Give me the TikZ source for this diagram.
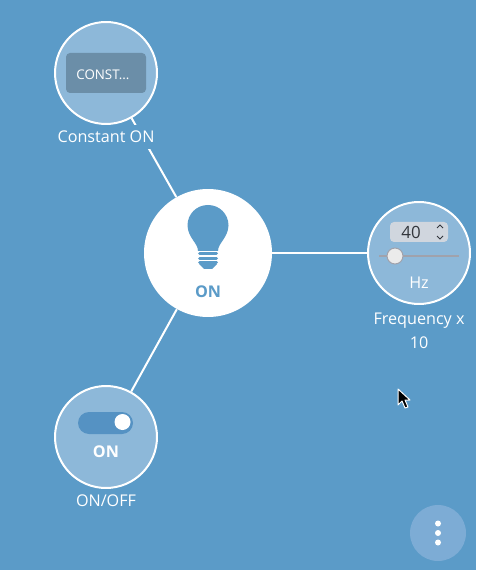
\documentclass[tikz,border=0pt]{standalone}
\usepackage{fontspec}
\setmainfont{Open Sans}
\usetikzlibrary{backgrounds}
\definecolor{panelblue}{RGB}{91,155,200}
\definecolor{widgetlight}{RGB}{141,184,217}
\definecolor{menulight}{RGB}{125,172,213}
\definecolor{constgray}{RGB}{107,142,168}
\definecolor{togglepill}{RGB}{85,146,195}
\definecolor{spingray}{RGB}{208,214,222}
\definecolor{trackgray}{RGB}{160,162,172}
\definecolor{inkdark}{RGB}{50,54,60}
\tikzset{
  widget/.style = {circle, draw=white, line width=0.04cm, fill=widgetlight,
                   minimum size=2.04cm, inner sep=0pt},
  lamp/.style   = {circle, fill=white, minimum size=2.56cm, inner sep=0pt},
  link/.style   = {draw=white, line width=0.04cm},
  lbl/.style    = {font=\fontsize{9.2pt}{13.6pt}\selectfont, text=white, fill=panelblue,
                   align=center, inner sep=0pt, minimum height=0.48cm},
  txt/.style    = {font=\fontsize{9.2pt}{10pt}\selectfont, text=white, inner sep=0pt},
  band/.style   = {draw=panelblue, line width=0.06cm, line cap=round},
}
\begin{document}
\begin{tikzpicture}[x=0.02cm,y=-0.02cm]
    \useasboundingbox (0,0) rectangle (476,570);

    % widgets and their captions
    \node[lamp] (lampnode) at (208,253) {};
    \node[widget] (constnode) at (106,73) {};
    \node[widget] (freqnode) at (419,253) {};
    \node[widget] (togglenode) at (106,437) {};
    \node[lbl] (constlabel) at (106,137) {Constant ON};
    \node[lbl, anchor=north] (freqlabel) at (419,312.5) {Frequency x\\10};
    \node[lbl] (togglelabel) at (106,501) {ON/OFF};

    \begin{scope}[on background layer]
      \fill[panelblue] (0,0) rectangle (476,570);
      \draw[link] (lampnode) -- (constnode);
      \draw[link] (lampnode) -- (freqnode);
      \draw[link] (lampnode) -- (togglenode);
    \end{scope}

    % bulb
    \fill[panelblue] (198,251) .. controls (198,243) and (188,238) .. (187.5,225.5)
      .. controls (187.5,214) and (196.5,205) .. (208,205)
      .. controls (219.5,205) and (228.5,214) .. (228.5,225.5)
      .. controls (228,238) and (218,243) .. (218,251) -- cycle;
    \foreach \y in {254,258.5,263}{
      \draw[band] (199.5,\y) -- (216.5,\y);
    }
    \fill[panelblue] (199,264) -- (217,264) -- (212,269) -- (204,269) -- cycle;
    \node[txt, font=\fontsize{9.2pt}{10pt}\selectfont\bfseries, text=panelblue] (lamptext) at (208,291.5) {ON};

    % constant button
    \fill[constgray, rounded corners=0.08cm] (66,53) rectangle (146,93);
    \node[txt, anchor=west, font=\fontsize{7.6pt}{9pt}\selectfont] (consttext) at (76,74.5) {CONST...};

    % frequency spinner and slider
    \fill[spingray, rounded corners=0.08cm] (390,222) rectangle (448,242);
    \node[txt, text=inkdark, font=\fontsize{9.6pt}{10pt}\selectfont] (spintext) at (411,232.5) {40};
    \draw[inkdark, line width=0.02cm] (437,228) -- (440,225) -- (443,228);
    \draw[inkdark, line width=0.02cm] (437,236) -- (440,239) -- (443,236);
    \draw[trackgray, line width=0.04cm] (379,256.5) -- (459,256.5);
    \fill[white!92!black] (395,256) circle (8);
    \draw[trackgray, line width=0.02cm] (395,256) circle (8);
    \node[txt] (hztext) at (419,282.5) {Hz};

    % toggle
    \fill[togglepill, rounded corners=0.22cm] (78,412) rectangle (133,434);
    \fill[white] (122.5,422) circle (8);
    \node[txt, font=\fontsize{9.2pt}{10pt}\selectfont\bfseries] (toggletext) at (106,451.5) {ON};

    % pointer
    \draw[white, fill=black, line width=0.02cm, line join=round] (398,389) -- (398,405) -- (402,401)
      -- (405,408) -- (408,407) -- (405,400) -- (410,400) -- cycle;

    % menu button
    \node[circle, fill=menulight, minimum size=1.12cm, inner sep=0pt] (menunode) at (438,533) {};
    \foreach \y in {523.5,533,542.5}{
      \fill[white] (438,\y) circle (3);
    }
\end{tikzpicture}
\end{document}
